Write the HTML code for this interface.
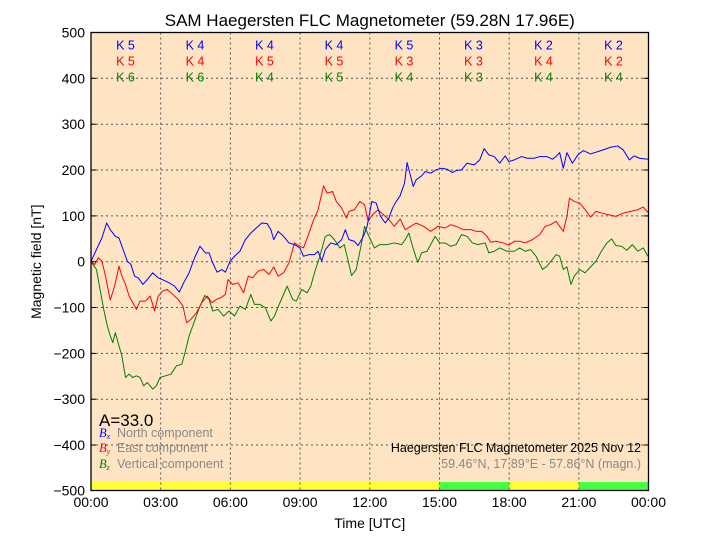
<!DOCTYPE html>
<html><head><meta charset="utf-8"><style>
html,body{margin:0;padding:0;background:#fff;}
svg{display:block;font-family:"Liberation Sans",sans-serif;}
</style></head><body>
<svg width="720" height="540" viewBox="0 0 720 540" xmlns="http://www.w3.org/2000/svg">
<rect x="91" y="32.5" width="557.5" height="458" fill="#ffe4c4"/>
<rect x="91" y="482" width="348.5" height="8.5" fill="#ffff33"/>
<rect x="439.5" y="482" width="69.7" height="8.5" fill="#44ff44"/>
<rect x="509.2" y="482" width="69.7" height="8.5" fill="#ffff33"/>
<rect x="578.9" y="482" width="69.6" height="8.5" fill="#44ff44"/>
<g stroke="#555" stroke-width="1" stroke-dasharray="2,3" fill="none">
<line x1="160.7" y1="32.5" x2="160.7" y2="490.5"/><line x1="230.4" y1="32.5" x2="230.4" y2="490.5"/>
<line x1="300.1" y1="32.5" x2="300.1" y2="490.5"/><line x1="369.8" y1="32.5" x2="369.8" y2="490.5"/>
<line x1="439.5" y1="32.5" x2="439.5" y2="490.5"/><line x1="509.2" y1="32.5" x2="509.2" y2="490.5"/>
<line x1="578.9" y1="32.5" x2="578.9" y2="490.5"/>
<line x1="91" y1="78.3" x2="648.5" y2="78.3"/><line x1="91" y1="124.2" x2="648.5" y2="124.2"/>
<line x1="91" y1="170" x2="648.5" y2="170"/><line x1="91" y1="215.9" x2="648.5" y2="215.9"/>
<line x1="91" y1="261.7" x2="648.5" y2="261.7"/><line x1="91" y1="307.5" x2="648.5" y2="307.5"/>
<line x1="91" y1="353.4" x2="648.5" y2="353.4"/><line x1="91" y1="399.2" x2="648.5" y2="399.2"/>
<line x1="91" y1="445" x2="648.5" y2="445"/>
</g>
<g transform="translate(85.55,130) scale(0.3633,0.3322)" fill="none" stroke-width="1" stroke-linejoin="round">
<polyline vector-effect="non-scaling-stroke" stroke="#008000" points="15,396 30,420 40,480 50,540 60,590 68,620 75,640 82,610 92,650 100,680 110,745 120,735 130,745 140,740 150,745 160,770 170,760 185,780 195,770 205,745 220,740 235,735 250,710 265,705 275,665 285,620 300,575 315,530 328,498 340,510 350,545 365,540 380,560 395,545 410,560 425,530 440,540 455,495 465,525 480,525 495,535 510,575 520,560 535,520 555,470 570,510 580,515 595,480 610,490 620,470 630,430 645,380 660,320 672,315 685,330 700,355 712,345 722,390 732,438 745,420 758,350 768,290 780,320 795,355 810,345 830,345 850,340 870,345 880,330 890,310 900,350 910,385 915,398 925,370 940,365 955,335 962,320 975,340 990,340 1005,350 1020,345 1035,315 1050,320 1065,340 1080,345 1100,340 1110,370 1125,365 1140,355 1160,365 1180,365 1195,355 1210,365 1225,360 1240,380 1258,420 1270,410 1285,390 1295,375 1305,380 1315,420 1325,412 1336,465 1345,440 1360,420 1375,430 1390,412 1405,395 1420,365 1435,340 1448,328 1460,348 1475,350 1490,362 1505,345 1520,365 1535,355 1548,380"/>
<polyline vector-effect="non-scaling-stroke" stroke="#ff0000" points="15,396 25,405 35,385 45,395 55,440 68,512 80,470 92,410 100,440 110,465 120,500 130,520 140,540 150,515 165,515 178,500 190,545 200,500 212,485 225,480 240,495 255,510 268,530 278,580 290,570 305,550 320,520 335,500 348,520 360,510 372,505 385,495 392,450 405,465 420,460 435,490 448,440 460,445 475,425 490,420 505,435 518,412 530,440 545,430 560,400 575,340 590,350 600,355 615,310 628,270 640,240 655,168 665,190 680,185 690,215 705,235 718,265 725,245 740,240 755,215 768,225 778,275 790,255 805,240 820,255 835,270 850,290 866,268 880,300 895,290 910,280 930,290 950,305 970,290 990,295 1005,285 1020,290 1040,300 1060,300 1075,305 1090,305 1105,320 1115,338 1130,335 1150,340 1165,347 1180,335 1195,335 1210,340 1230,330 1250,315 1265,290 1280,285 1295,275 1305,290 1315,305 1325,260 1332,205 1345,215 1360,220 1375,240 1390,262 1405,245 1420,250 1440,255 1460,260 1480,250 1500,245 1520,240 1535,232 1548,248"/>
<polyline vector-effect="non-scaling-stroke" stroke="#0000ff" points="15,396 30,360 45,325 58,280 68,300 75,310 82,320 92,325 100,350 115,395 125,405 135,440 145,445 158,465 170,450 185,430 200,445 215,452 230,460 245,470 258,488 270,460 285,430 300,385 315,350 330,370 340,370 350,400 362,428 375,420 385,428 398,395 410,380 425,365 440,330 455,310 470,295 485,280 500,282 510,300 518,330 530,305 545,320 560,340 575,345 590,355 600,380 615,375 630,375 640,365 650,395 660,360 675,340 690,345 705,330 715,300 725,330 740,335 750,348 765,320 775,290 788,215 800,220 812,260 825,280 835,265 845,235 855,215 865,200 878,160 885,98 895,140 902,170 910,150 925,138 935,125 950,130 965,120 980,115 995,118 1010,128 1020,122 1035,120 1050,100 1070,105 1085,90 1097,56 1110,75 1125,80 1140,100 1155,78 1165,95 1180,90 1200,80 1215,85 1235,85 1250,80 1270,80 1285,88 1295,80 1305,68 1315,115 1325,68 1340,100 1355,75 1370,62 1390,72 1410,65 1430,58 1445,52 1465,48 1480,60 1497,90 1510,78 1525,85 1548,88"/>
</g>
<rect x="91" y="32.5" width="557.5" height="458" fill="none" stroke="#000" stroke-width="1.3"/>
<g stroke="#000" stroke-width="1">
<line x1="91" y1="78.3" x2="96" y2="78.3"/><line x1="91" y1="124.2" x2="96" y2="124.2"/><line x1="91" y1="170" x2="96" y2="170"/><line x1="91" y1="215.9" x2="96" y2="215.9"/><line x1="91" y1="261.7" x2="96" y2="261.7"/><line x1="91" y1="307.5" x2="96" y2="307.5"/><line x1="91" y1="353.4" x2="96" y2="353.4"/><line x1="91" y1="399.2" x2="96" y2="399.2"/><line x1="91" y1="445" x2="96" y2="445"/>
<line x1="643.5" y1="78.3" x2="648.5" y2="78.3"/><line x1="643.5" y1="124.2" x2="648.5" y2="124.2"/><line x1="643.5" y1="170" x2="648.5" y2="170"/><line x1="643.5" y1="215.9" x2="648.5" y2="215.9"/><line x1="643.5" y1="261.7" x2="648.5" y2="261.7"/><line x1="643.5" y1="307.5" x2="648.5" y2="307.5"/><line x1="643.5" y1="353.4" x2="648.5" y2="353.4"/><line x1="643.5" y1="399.2" x2="648.5" y2="399.2"/><line x1="643.5" y1="445" x2="648.5" y2="445"/>
</g>
<text x="369.8" y="26" font-size="17" text-anchor="middle">SAM Haegersten FLC Magnetometer (59.28N 17.96E)</text>
<g font-size="14" text-anchor="end">
<text x="85" y="37.5">500</text><text x="85" y="83.3">400</text><text x="85" y="129.2">300</text><text x="85" y="175">200</text><text x="85" y="220.9">100</text><text x="85" y="266.7">0</text><text x="85" y="312.5">−100</text><text x="85" y="358.4">−200</text><text x="85" y="404.2">−300</text><text x="85" y="450">−400</text><text x="85" y="495.5">−500</text>
</g>
<g font-size="14" text-anchor="middle">
<text x="91" y="507">00:00</text><text x="160.7" y="507">03:00</text><text x="230.4" y="507">06:00</text><text x="300.1" y="507">09:00</text><text x="369.8" y="507">12:00</text><text x="439.5" y="507">15:00</text><text x="509.2" y="507">18:00</text><text x="578.9" y="507">21:00</text><text x="648.5" y="507">00:00</text>
</g>
<text x="369.8" y="528" font-size="14" text-anchor="middle">Time [UTC]</text>
<text transform="translate(41,261.7) rotate(-90)" font-size="14" text-anchor="middle">Magnetic field [nT]</text>
<g font-size="12.5" text-anchor="middle">
<g fill="#0000ff"><text x="125.5" y="49.5">K 5</text><text x="195" y="49.5">K 4</text><text x="264.5" y="49.5">K 4</text><text x="334" y="49.5">K 4</text><text x="404" y="49.5">K 5</text><text x="473.5" y="49.5">K 3</text><text x="543.5" y="49.5">K 2</text><text x="613.5" y="49.5">K 2</text></g>
<g fill="#ff0000"><text x="125.5" y="65.5">K 5</text><text x="195" y="65.5">K 4</text><text x="264.5" y="65.5">K 5</text><text x="334" y="65.5">K 5</text><text x="404" y="65.5">K 3</text><text x="473.5" y="65.5">K 3</text><text x="543.5" y="65.5">K 4</text><text x="613.5" y="65.5">K 2</text></g>
<g fill="#008000"><text x="125.5" y="81.5">K 6</text><text x="195" y="81.5">K 6</text><text x="264.5" y="81.5">K 4</text><text x="334" y="81.5">K 5</text><text x="404" y="81.5">K 4</text><text x="473.5" y="81.5">K 3</text><text x="543.5" y="81.5">K 4</text><text x="613.5" y="81.5">K 4</text></g>
</g>
<text x="99" y="426" font-size="17">A=33.0</text>
<g font-size="12.5">
<text x="99" y="437" fill="#0000ff" font-family="Liberation Serif,serif" font-style="italic">B<tspan font-size="8" dy="2">x</tspan></text>
<text x="117" y="437" fill="#888">North component</text>
<text x="99" y="452" fill="#ff0000" font-family="Liberation Serif,serif" font-style="italic">B<tspan font-size="8" dy="2">y</tspan></text>
<text x="117" y="452" fill="#888">East component</text>
<text x="99" y="468" fill="#008000" font-family="Liberation Serif,serif" font-style="italic">B<tspan font-size="8" dy="2">z</tspan></text>
<text x="117" y="468" fill="#888">Vertical component</text>
<text x="641" y="452" text-anchor="end" fill="#000">Haegersten FLC Magnetometer 2025 Nov 12</text>
<text x="641" y="468" text-anchor="end" fill="#888">59.46°N, 17.89°E - 57.86°N (magn.)</text>
</g>
</svg>
</body></html>
